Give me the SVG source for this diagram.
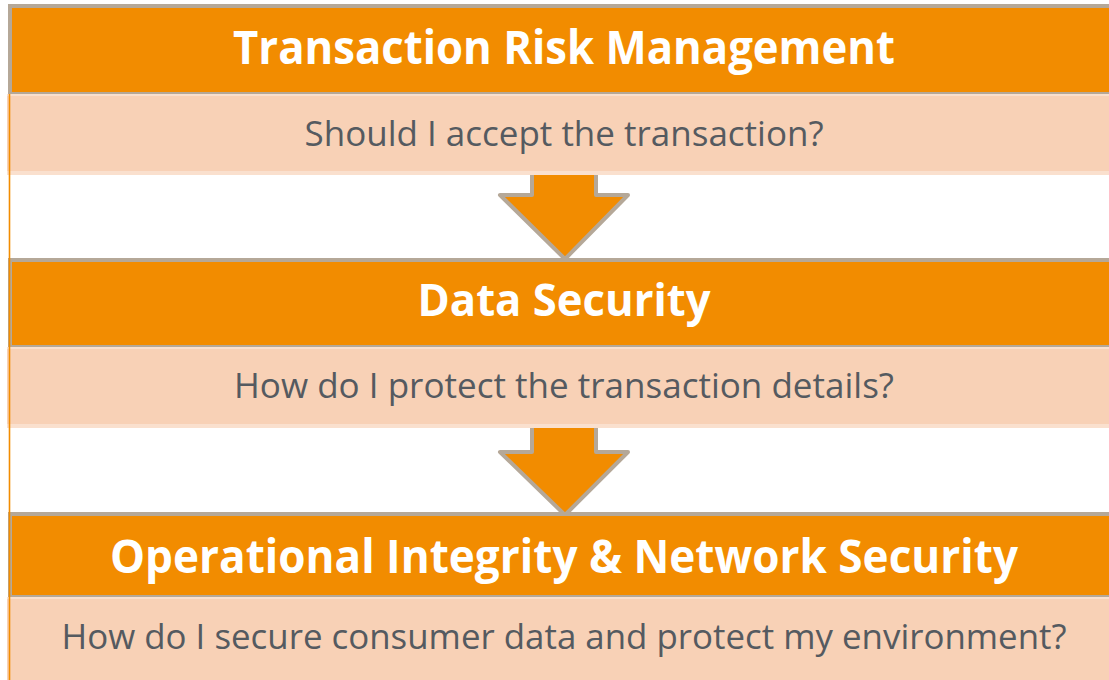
<svg xmlns="http://www.w3.org/2000/svg" width="1109" height="680" viewBox="0 0 1109 680">
  <defs>
    <style>
      .head { fill: #F28C00; stroke: #B5A898; stroke-width: 4; }
      .band { fill: #F8D1B6; }
      .band-edge { fill: #FAE0CE; }
      .title { font-family: "Open Sans", "Noto Sans", sans-serif; font-weight: 700; fill: #FFFFFF; text-anchor: middle; }
      .sub { font-family: "Open Sans", "Noto Sans", sans-serif; font-weight: 400; fill: #555A60; text-anchor: middle; font-size: 34px; }
      .arrow { fill: #F28C00; stroke: #B5A898; stroke-width: 4; stroke-linejoin: round; }
      .rail { stroke: #F28C00; stroke-width: 1.6; }
    </style>
  </defs>
  <rect width="1109" height="680" fill="#FFFFFF"/>

  <!-- down arrows between the layers -->
  <g id="connectors">
    <polygon class="arrow" points="532,160 596,160 596,195 628,195 565,259 500,195 532,195"/>
    <polygon class="arrow" points="532,415 596,415 596,452 628,452 565,515 500,452 532,452"/>
  </g>

  <g id="layer-risk">
    <rect class="head" x="10" y="6" width="1110" height="88"/>
    <rect class="band" x="7" y="94" width="1110" height="81"/>
    <rect class="band-edge" x="7" y="94" width="1110" height="2"/>
    <rect class="band-edge" x="7" y="171" width="1110" height="4"/>
    <text class="title" x="564" y="64" font-size="46" textLength="662" lengthAdjust="spacingAndGlyphs">Transaction Risk Management</text>
    <text class="sub" x="564" y="146" textLength="519" lengthAdjust="spacingAndGlyphs">Should I accept the transaction?</text>
  </g>

  <g id="layer-data">
    <rect class="head" x="10" y="260" width="1110" height="87"/>
    <rect class="band" x="7" y="347" width="1110" height="81"/>
    <rect class="band-edge" x="7" y="347" width="1110" height="2"/>
    <rect class="band-edge" x="7" y="424" width="1110" height="4"/>
    <text class="title" x="564" y="316" font-size="44" textLength="293" lengthAdjust="spacingAndGlyphs">Data Security</text>
    <text class="sub" x="564" y="398" textLength="660" lengthAdjust="spacingAndGlyphs">How do I protect the transaction details?</text>
  </g>

  <g id="layer-network">
    <rect class="head" x="10" y="514" width="1110" height="83"/>
    <rect class="band" x="7" y="597" width="1110" height="83"/>
    <rect class="band-edge" x="7" y="597" width="1110" height="2"/>
    <text class="title" x="564" y="573" font-size="46" textLength="908" lengthAdjust="spacingAndGlyphs">Operational Integrity &amp; Network Security</text>
    <text class="sub" x="564" y="649" textLength="1005" lengthAdjust="spacingAndGlyphs">How do I secure consumer data and protect my environment?</text>
  </g>

  <!-- thin frame edge on the left -->
  <line class="rail" x1="9.5" y1="94" x2="9.5" y2="680"/>
</svg>
